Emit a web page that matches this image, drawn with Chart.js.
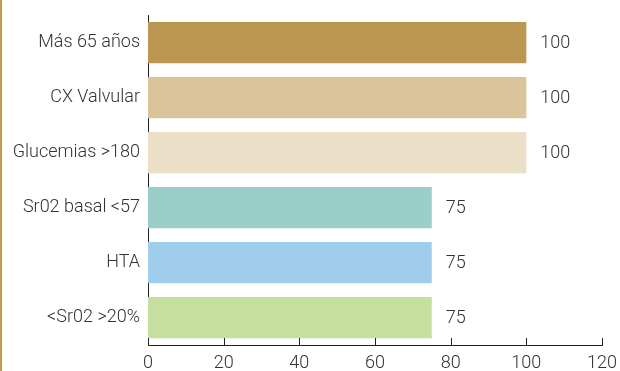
<!DOCTYPE html>
<html>
<head>
<meta charset="utf-8">
<script src="https://cdn.jsdelivr.net/npm/chart.js@4/dist/chart.umd.min.js"></script>
<style>
  html, body { margin: 0; padding: 0; background: #fff; }
  #wrap { width: 620px; height: 371px; position: relative; }
</style>
</head>
<body>
<div id="wrap"><canvas id="bars-chart"></canvas></div>
<script>
const categories = ['Más 65 años', 'CX Valvular', 'Glucemias >180', 'Sr02 basal <57', 'HTA', '<Sr02 >20%']
const values = [100, 100, 100, 75, 75, 75]
const bar_colors = ['#bc9752', '#dbc49a', '#ebdfc7', '#9acec9', '#a0cdec', '#c5df9e']
const x_ticks = [0, 20, 40, 60, 80, 100, 120]

const font_family = 'Roboto, "DejaVu Sans Condensed", sans-serif'
const font_weight = '300'
const font_size = 18
const text_color = '#333'

// value labels at the end of each bar
const value_labels = {
  id: 'value_labels',
  afterDatasetsDraw(chart) {
    const ctx = chart.ctx
    const meta = chart.getDatasetMeta(0)
    ctx.save()
    ctx.font = font_weight + ' ' + font_size + 'px ' + font_family
    ctx.fillStyle = text_color
    ctx.textAlign = 'left'
    ctx.textBaseline = 'middle'
    meta.data.forEach(function(bar, i) {
      ctx.fillText(String(values[i]), bar.x + 14, bar.y + 1)
    })
    ctx.restore()
  }
}

// x ticks drawn upward into the plot, plus the gold page line on the left
const decorations = {
  id: 'decorations',
  afterDraw(chart) {
    const ctx = chart.ctx
    const xs = chart.scales.x
    ctx.save()
    ctx.strokeStyle = '#222'
    ctx.lineWidth = 1
    x_ticks.forEach(function(v) {
      const px = Math.round(xs.getPixelForValue(v)) + 0.5
      ctx.beginPath()
      ctx.moveTo(px, xs.top)
      ctx.lineTo(px, xs.top - 7)
      ctx.stroke()
    })
    ctx.fillStyle = '#c09a50'
    ctx.fillRect(0, 0, 2, chart.height)
    ctx.restore()
  }
}

new Chart(document.getElementById('bars-chart').getContext('2d'), {
  type: 'bar',
  data: {
    labels: categories,
    datasets: [{
      data: values,
      backgroundColor: bar_colors,
      borderWidth: 0,
      categoryPercentage: 0.75,
      barPercentage: 1
    }]
  },
  options: {
    indexAxis: 'y',
    responsive: true,
    maintainAspectRatio: false,
    animation: false,
    layout: { padding: { left: 0, top: 15, right: 18, bottom: 0 } },
    plugins: {
      legend: { display: false },
      tooltip: { enabled: false }
    },
    scales: {
      x: {
        min: 0,
        max: 120,
        afterBuildTicks(scale) {
          scale.ticks = x_ticks.map(v => ({ value: v }))
        },
        afterFit(scale) { scale.height = 26 },
        grid: { display: false },
        border: { display: true, color: '#222', width: 1 },
        ticks: {
          color: text_color,
          padding: 0,
          font: { family: font_family, size: font_size, weight: font_weight }
        }
      },
      y: {
        afterFit(scale) { scale.width = 148 },
        grid: { display: false },
        border: { display: true, color: '#222', width: 1 },
        ticks: {
          color: text_color,
          padding: 0,
          font: { family: font_family, size: font_size, weight: font_weight }
        }
      }
    }
  },
  plugins: [value_labels, decorations]
})
</script>
</body>
</html>
